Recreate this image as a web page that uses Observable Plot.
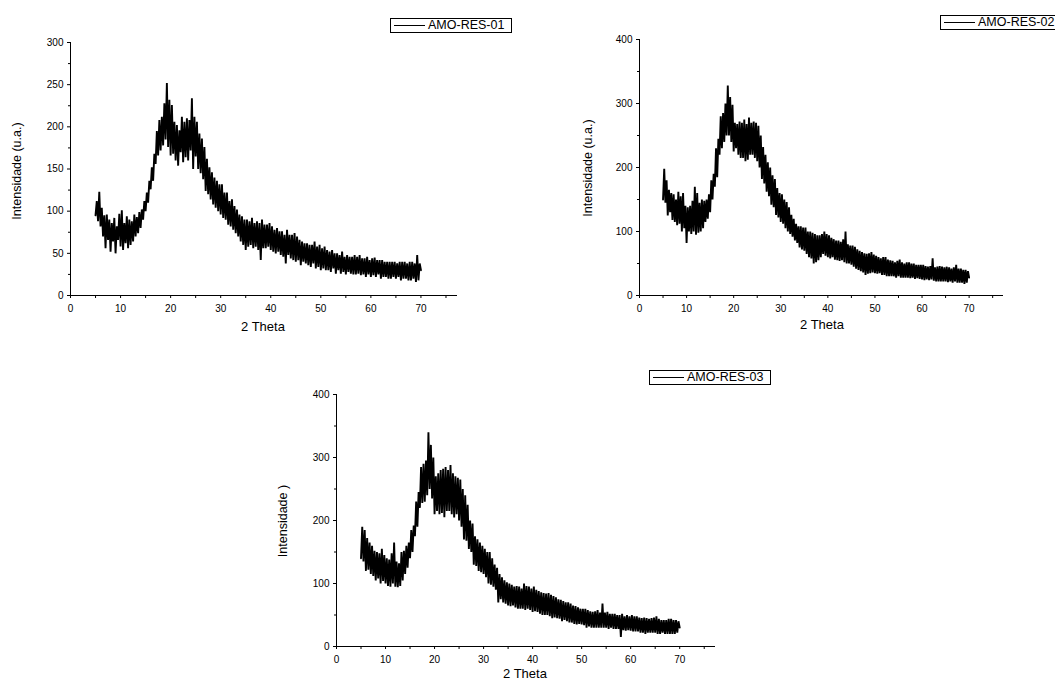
<!DOCTYPE html>
<html><head><meta charset="utf-8">
<script src="https://cdn.jsdelivr.net/npm/d3@7"></script>
<script src="https://cdn.jsdelivr.net/npm/@observablehq/plot@0.6"></script>
<style>
html,body{margin:0;padding:0;background:#fff;}
body{width:1055px;height:681px;overflow:hidden;position:relative;font-family:"Liberation Sans",Arial,sans-serif;color:#000;}
.p{position:absolute;}
.lbl{position:absolute;white-space:nowrap;line-height:1;}
.ylab{transform:translate(-50%,-50%) rotate(-90deg);font-size:12.5px;}
.xlab{transform:translate(-50%,0);font-size:13px;}
.leg{position:absolute;border:1px solid #000;box-sizing:border-box;height:15px;display:flex;align-items:center;font-size:12.5px;line-height:1;background:#fff;white-space:nowrap;}
.leg .sw{display:inline-block;width:31px;border-top:1px solid #000;margin-left:3px;margin-right:3px;}
</style>
</head><body>
<script>
// 2-theta grid: 5.00 .. 70.00 in 0.25 steps
const theta = d3.range(261).map(i => 5 + i * 0.25);
const seriesNames = ["AMO-RES-01", "AMO-RES-02", "AMO-RES-03"];
const yTitles = ["Intensidade (u.a.)", "Intensidade (u.a.)", "Intensidade )"];
const xTitle = "2 Theta";
const xTicks = [0,10,20,30,40,50,60,70];
const xMinor = [5,15,25,35,45,55,65,75];
const yTicks1 = [0,50,100,150,200,250,300];
const yMinor1 = [25,75,125,175,225,275];
const yTicks23 = [0,100,200,300,400];
const yMinor23 = [50,150,250,350];

const amo01 = [
95,112,88,123, 82,104,70,95, 56,96,66,90, 52,86,64,92, 50,82,66,97,
58,101,54,86, 62,94,56,90, 60,88,64,96, 70,93,74,99, 80,102,90,112,
100,122,110,136, 126,152,136,168, 156,195,166,208, 172,212,178,228, 185,252,176,232,
166,226,168,206, 160,202,154,196, 170,212,158,206, 164,210,160,208, 172,234,150,212,
165,206,150,192, 145,186,138,176, 124,162,120,152, 114,146,108,140, 104,136,100,132,
96,132,92,122, 90,122,84,112, 82,114,78,106, 74,102,70,96, 64,94,60,90,
54,90,58,88, 60,92,56,86, 58,88,54,86, 42,90,56,84, 56,84,58,86,
54,82,52,78, 50,80,52,76, 48,76,46,72, 38,78,48,72, 44,72,42,74,
40,70,42,66, 36,64,40,62, 38,62,36,60, 34,60,38,64, 32,58,34,60,
30,56,32,58, 30,54,30,52, 28,54,32,50, 26,50,30,48, 26,52,28,46,
25,48,28,46, 26,46,25,48, 25,46,26,48, 24,44,25,44, 22,46,25,42,
22,44,24,45, 22,42,25,42, 20,42,22,40, 22,40,20,40, 20,40,22,40,
20,38,22,40, 18,40,20,40, 20,38,18,40, 18,40,20,38, 16,48,18,38,
30];

const amo02 = [
150,198,145,180, 125,165,130,160, 118,158,115,150, 110,162,112,155, 100,160,105,140,
82,138,100,140, 96,148,100,170, 95,160,98,145, 100,150,105,148, 115,150,120,158,
130,180,150,190, 170,230,185,245, 220,280,230,285, 240,300,250,328, 250,310,240,298,
225,270,230,268, 220,272,215,270, 215,275,210,268, 212,278,220,270, 220,272,215,270,
210,265,200,250, 182,232,175,220, 162,208,155,200, 142,188,138,182, 126,168,122,160,
115,158,112,150, 105,146,100,138, 96,126,92,120, 86,112,82,108, 75,108,72,106,
70,106,65,100, 60,100,58,98, 50,96,52,94, 55,94,60,96, 65,100,62,96,
60,94,58,90, 60,88,56,86, 55,86,54,84, 55,88,52,100, 50,80,50,78,
48,78,45,76, 42,72,40,70, 38,68,36,66, 32,65,34,66, 35,68,36,64,
35,62,34,60, 35,58,32,60, 32,60,30,56, 30,55,30,54, 30,52,28,54,
30,56,28,52, 28,50,28,52, 28,52,27,50, 28,50,26,48, 27,48,26,48,
25,48,24,46, 25,45,24,46, 25,58,23,44, 22,45,22,46, 22,45,22,44,
22,45,21,44, 22,42,20,44, 22,48,20,42, 20,42,20,40, 18,40,20,38,
28];

const amo03 = [
140,190,135,185, 120,172,122,165, 115,160,112,152, 105,150,108,148, 100,155,104,145,
100,140,96,138, 95,148,100,165, 95,135,94,132, 96,150,105,152, 115,160,125,165,
140,185,150,192, 175,230,190,245, 220,285,228,290, 230,295,240,340, 250,320,235,300,
210,270,215,275, 210,280,212,282, 205,285,215,280, 215,288,210,275, 205,270,210,268,
200,265,190,250, 170,240,168,225, 155,200,150,195, 130,175,128,170, 120,165,118,160,
115,155,110,150, 100,150,98,140, 95,130,90,125, 70,115,75,110, 70,105,68,102,
65,100,64,98, 65,95,62,96, 60,95,60,92, 60,100,58,96, 60,95,58,92,
55,95,56,90, 55,88,52,86, 50,85,50,84, 50,85,48,82, 45,80,46,78,
45,75,44,74, 40,72,42,70, 40,70,38,68, 38,65,36,64, 35,62,36,60,
35,60,34,60, 30,58,32,56, 30,55,30,56, 30,58,30,54, 30,68,30,54,
30,55,28,52, 30,52,28,52, 28,50,28,50, 15,52,26,48, 25,50,26,48,
25,50,24,48, 24,48,24,46, 22,45,22,46, 20,45,22,44, 22,45,22,46,
22,48,20,44, 20,42,22,42, 20,42,20,44, 20,44,20,42, 20,42,22,40,
30];

const panels = [
  {vals: amo01, name: seriesNames[0], yTitle: yTitles[0], yMax: 300, yT: yTicks1, yM: yMinor1,
   left: 0, top: 0, width: 480, height: 320, mL: 70, mT: 42, mR: 23, mB: 25,
   ylab: [17, 171], xlab: [263, 320], leg: [390, 18, 122]},
  {vals: amo02, name: seriesNames[1], yTitle: yTitles[1], yMax: 400, yT: yTicks23, yM: yMinor23,
   left: 560, top: 0, width: 463, height: 320, mL: 79, mT: 39, mR: 20, mB: 25,
   ylab: [588, 168], xlab: [822, 318], leg: [940, 15, 122]},
  {vals: amo03, name: seriesNames[2], yTitle: yTitles[2], yMax: 400, yT: yTicks23, yM: yMinor23,
   left: 260, top: 360, width: 475, height: 311, mL: 76, mT: 34, mR: 20, mB: 25,
   ylab: [283, 521], xlab: [525, 667], leg: [649, 370, 122]}
];

for (const p of panels) {
  const data = theta.map((t, i) => ({t, v: p.vals[i]}));
  const chart = Plot.plot({
    width: p.width, height: p.height,
    marginLeft: p.mL, marginTop: p.mT, marginRight: p.mR, marginBottom: p.mB,
    style: {fontFamily: "Liberation Sans, Arial, sans-serif", fontSize: "10px", color: "#000", background: "transparent"},
    x: {domain: [0, 77.3]},
    y: {domain: [0, p.yMax]},
    marks: [
      Plot.axisX({ticks: xTicks, tickSize: 3, tickPadding: 6, label: null, tickFormat: d => String(d)}),
      Plot.axisX({ticks: xMinor, tickSize: 3, label: null, tickFormat: () => ""}),
      Plot.axisY({ticks: p.yT, tickSize: 3, tickPadding: 4, label: null, tickFormat: d => String(d)}),
      Plot.axisY({ticks: p.yM, tickSize: 2, label: null, tickFormat: () => ""}),
      Plot.ruleY([0], {stroke: "#000"}),
      Plot.ruleX([0], {stroke: "#000"}),
      Plot.line(data, {x: "t", y: "v", stroke: "#000", strokeWidth: 1.9, strokeLinejoin: "miter", strokeMiterlimit: 2})
    ]
  });
  chart.classList.add("p");
  chart.style.left = p.left + "px";
  chart.style.top = p.top + "px";
  document.body.appendChild(chart);

  const yl = document.createElement("div");
  yl.className = "lbl ylab";
  yl.textContent = p.yTitle;
  yl.style.left = p.ylab[0] + "px"; yl.style.top = p.ylab[1] + "px";
  document.body.appendChild(yl);

  const xl = document.createElement("div");
  xl.className = "lbl xlab";
  xl.textContent = xTitle;
  xl.style.left = p.xlab[0] + "px"; xl.style.top = p.xlab[1] + "px";
  document.body.appendChild(xl);

  const lg = document.createElement("div");
  lg.className = "leg";
  lg.style.left = p.leg[0] + "px"; lg.style.top = p.leg[1] + "px"; lg.style.width = p.leg[2] + "px";
  const sw = document.createElement("span"); sw.className = "sw";
  const tx = document.createElement("span"); tx.textContent = p.name;
  lg.appendChild(sw); lg.appendChild(tx);
  document.body.appendChild(lg);
}
</script>
</body></html>
